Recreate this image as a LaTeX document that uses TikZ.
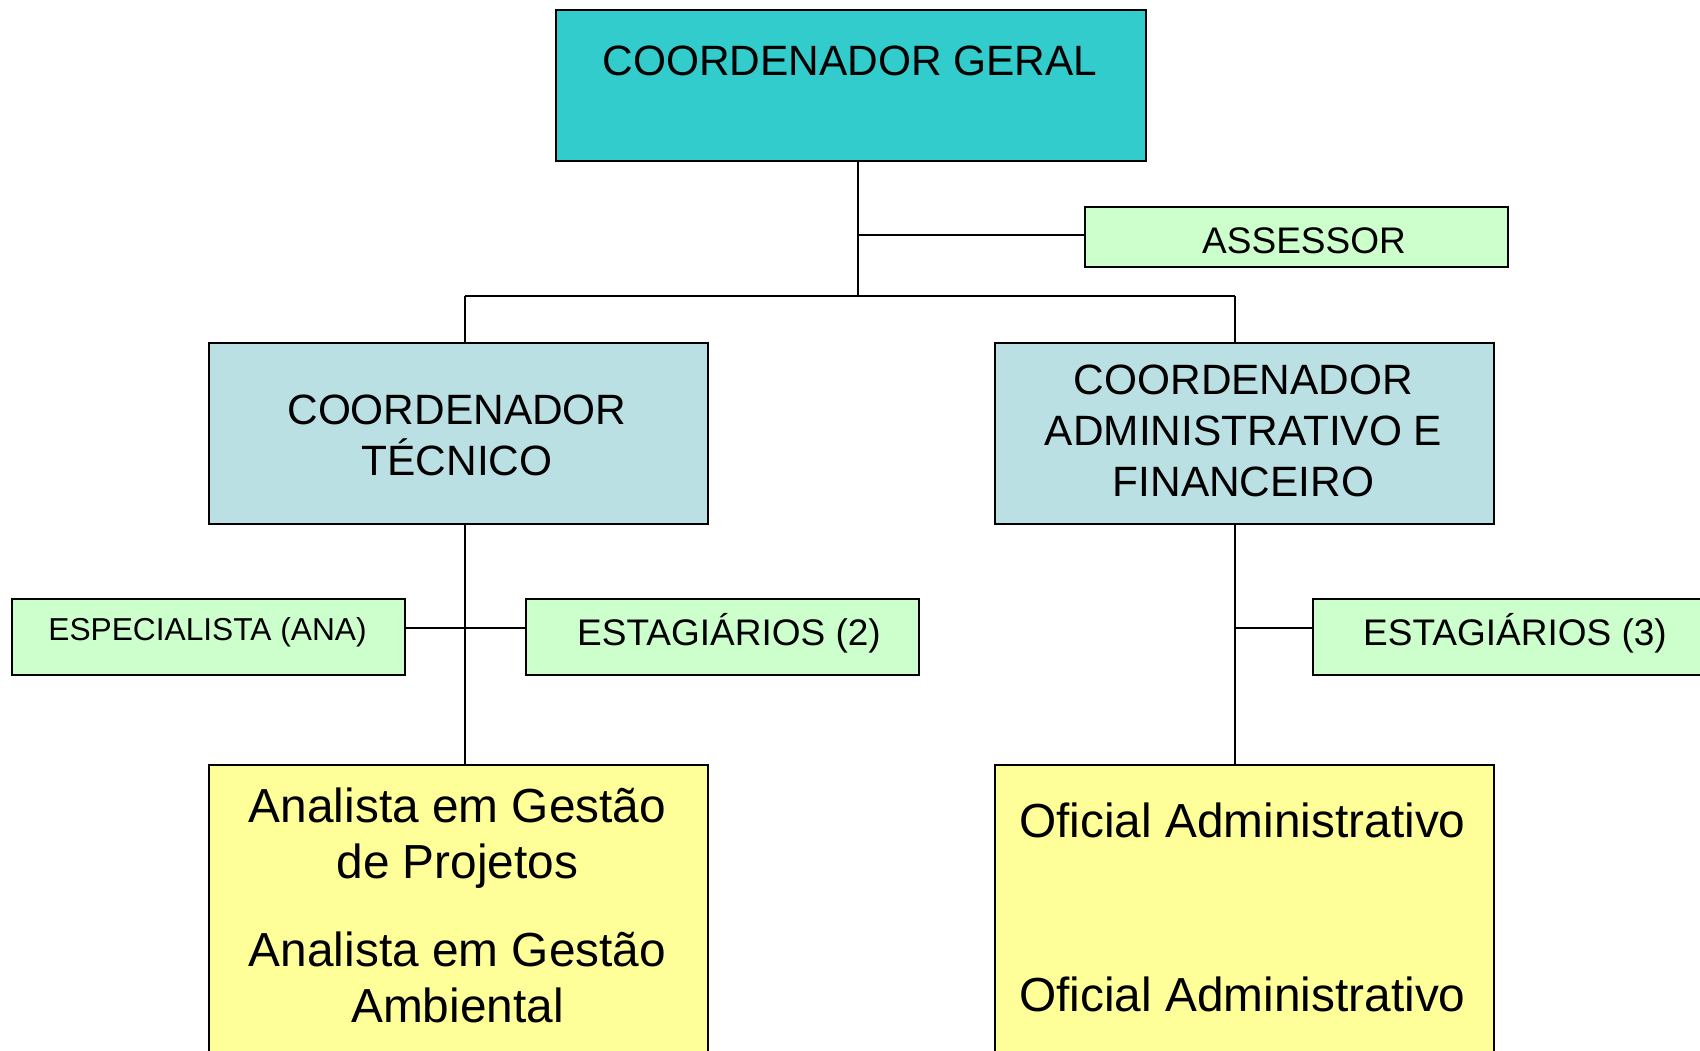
\documentclass[tikz,border=0pt]{standalone}
\usepackage{fontspec}
\setmainfont{Liberation Sans}
\definecolor{teal1}{RGB}{51,204,204}
\definecolor{lblue}{RGB}{187,224,227}
\definecolor{lgreen}{RGB}{204,255,204}
\definecolor{lyellow}{RGB}{255,255,153}
\tikzset{
  box/.style={draw=black, line width=1.6pt, inner sep=0pt, anchor=north west},
  conn/.style={draw=black, line width=1.6pt},
  txt/.style={anchor=base, inner sep=0pt, text=black},
  fA/.style={font=\fontsize{42.4}{51}\selectfont},
  fB/.style={font=\fontsize{37}{44}\selectfont},
  fC/.style={font=\fontsize{31.7}{38}\selectfont},
  fD/.style={font=\fontsize{47.8}{57}\selectfont},
}
\begin{document}
\begin{tikzpicture}[x=1pt,y=-1pt]
\useasboundingbox (0,0) rectangle (1700,1050);
\begin{scope}
\clip (0,0) rectangle (1700,1050);
% boxes
\node[box, fill=teal1, minimum width=590pt, minimum height=151pt] (geral) at (555,9) {};
\node[box, fill=lgreen, minimum width=423pt, minimum height=60pt] (assessor) at (1084,206) {};
\node[box, fill=lblue, minimum width=499pt, minimum height=181pt] (tecnico) at (208,342) {};
\node[box, fill=lblue, minimum width=499pt, minimum height=181pt] (admin) at (994,342) {};
\node[box, fill=lgreen, minimum width=393pt, minimum height=76pt] (espec) at (11,598) {};
\node[box, fill=lgreen, minimum width=393pt, minimum height=76pt] (estag2) at (525,598) {};
\node[box, fill=lgreen, minimum width=395pt, minimum height=76pt] (estag3) at (1312,598) {};
\node[box, fill=lyellow, minimum width=499pt, minimum height=300pt] (analista) at (208,764) {};
\node[box, fill=lyellow, minimum width=499pt, minimum height=300pt] (oficial) at (994,764) {};
% connector junctions
\coordinate (j1) at (858,235);
\coordinate (j2) at (858,296);
\coordinate (jl) at (465,296);
\coordinate (jr) at (1235,296);
\coordinate (jt) at (465,628);
\coordinate (ja) at (1235,628);
% connectors
\draw[conn] (geral.south -| j1) -- (j2);
\draw[conn] (j1) -- (assessor.west |- j1);
\draw[conn] (jl) -- (jr);
\draw[conn] (jl) -- (tecnico.north -| jl);
\draw[conn] (jr) -- (admin.north -| jr);
\draw[conn] (tecnico.south -| jt) -- (analista.north -| jt);
\draw[conn] (admin.south -| ja) -- (oficial.north -| ja);
\draw[conn] (espec.east |- jt) -- (estag2.west |- jt);
\draw[conn] (ja) -- (estag3.west |- ja);
% texts
\node[txt, fA] (tgeral) at (850,75) {COORDENADOR GERAL};
\node[txt, fB] (tassessor) at (1304,253) {ASSESSOR};
\node[txt, fA] (ttec1) at (457,424) {COORDENADOR};
\node[txt, fA] (ttec2) at (457,475) {TÉCNICO};
\node[txt, fA] (tadm1) at (1243.5,394) {COORDENADOR};
\node[txt, fA] (tadm2) at (1243.5,445) {ADMINISTRATIVO E};
\node[txt, fA] (tadm3) at (1243.5,496) {FINANCEIRO};
\node[txt, fC] (tespec) at (207.5,640) {ESPECIALISTA (ANA)};
\node[txt, fB] (testag2) at (729,645) {ESTAGIÁRIOS (2)};
\node[txt, fB] (testag3) at (1515,645) {ESTAGIÁRIOS (3)};
\node[txt, fD] (tan1) at (457.5,822) {Analista em Gestão};
\node[txt, fD] (tan2) at (457.5,878) {de Projetos};
\node[txt, fD] (tan3) at (457.5,966) {Analista em Gestão};
\node[txt, fD] (tan4) at (457.5,1022) {Ambiental};
\node[txt, fD] (tof1) at (1242.5,837) {Oficial Administrativo};
\node[txt, fD] (tof2) at (1242.5,1011) {Oficial Administrativo};
\end{scope}
\end{tikzpicture}
\end{document}
